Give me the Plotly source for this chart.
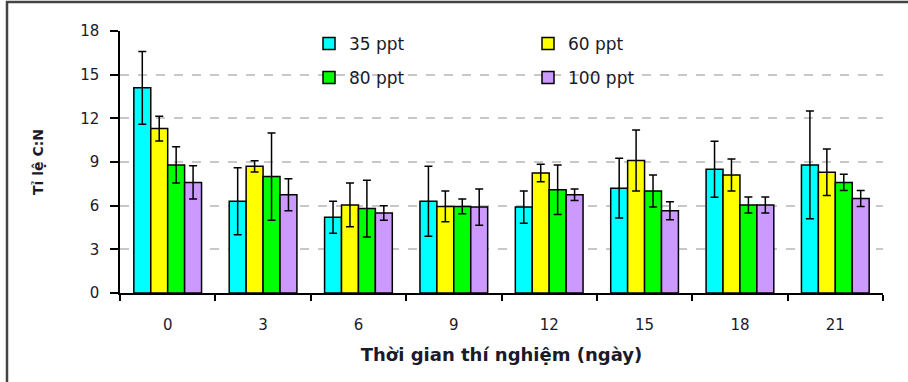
import plotly.graph_objects as go

days = ["0", "3", "6", "9", "12", "15", "18", "21"]
series_names = ["35 ppt", "60 ppt", "80 ppt", "100 ppt"]
colors = ["#00FFFF", "#FFFF00", "#00FF00", "#CC99FF"]

v35 = [14.1, 6.3, 5.2, 6.3, 5.9, 7.2, 8.5, 8.8]
e35 = [2.5, 2.3, 1.1, 2.4, 1.1, 2.05, 1.93, 3.7]
v60 = [11.3, 8.7, 6.05, 5.95, 8.25, 9.1, 8.1, 8.3]
e60 = [0.85, 0.38, 1.5, 1.05, 0.6, 2.1, 1.1, 1.6]
v80 = [8.8, 8.0, 5.8, 5.95, 7.1, 7.0, 6.05, 7.6]
e80 = [1.25, 3.0, 1.95, 0.5, 1.7, 1.1, 0.55, 0.55]
v100 = [7.6, 6.75, 5.5, 5.9, 6.75, 5.65, 6.05, 6.5]
e100 = [1.15, 1.1, 0.5, 1.25, 0.4, 0.62, 0.55, 0.55]

values = [v35, v60, v80, v100]
errors = [e35, e60, e80, e100]
legend_ids = ["legend", "legend", "legend2", "legend2"]

fig = go.Figure()
for name, col, v, e, lg in zip(series_names, colors, values, errors, legend_ids):
    fig.add_trace(go.Bar(
        x=days, y=v, name=name, legend=lg,
        marker=dict(color=col, line=dict(color="black", width=1.5)),
        error_y=dict(type="data", array=e, visible=True, color="black",
                     thickness=1.5, width=4),
    ))

W, H = 908, 382
ml, mr, mt, mb = 120, 25, 31, 89
pw, ph = W - ml - mr, H - mt - mb

def px_x(p):
    return (p - ml) / pw

def px_y(p):
    return (H - mb - p) / ph

font = "DejaVu Sans, Verdana, sans-serif"
txt = "#1a1a2a"
fig.update_layout(
    width=W, height=H,
    margin=dict(l=ml, r=mr, t=mt, b=mb, pad=0),
    paper_bgcolor="white", plot_bgcolor="white",
    barmode="group", bargap=0.29, bargroupgap=0,
    font=dict(family=font, size=15, color=txt),
    showlegend=True,
    legend=dict(orientation="h", x=px_x(309), y=px_y(26), xanchor="left", yanchor="top",
                entrywidth=174, entrywidthmode="pixels", font=dict(size=17),
                bgcolor="rgba(0,0,0,0)", itemwidth=30, tracegroupgap=0),
    legend2=dict(orientation="h", x=px_x(309), y=px_y(60), xanchor="left", yanchor="top",
                 entrywidth=174, entrywidthmode="pixels", font=dict(size=17),
                 bgcolor="rgba(0,0,0,0)", itemwidth=30, tracegroupgap=0),
    xaxis=dict(
        type="category", showline=True, linecolor="black", linewidth=1.5,
        ticks="outside", tickson="boundaries", ticklen=6, tickwidth=1.5, tickcolor="black",
        showgrid=False, zeroline=False,
        tickfont=dict(size=15), ticklabelstandoff=17,
        title=dict(text="<b>Thời gian thí nghiệm (ngày)</b>", font=dict(size=18), standoff=16),
    ),
    yaxis=dict(
        range=[0, 18], tickvals=[0, 3, 6, 9, 12, 15, 18],
        showline=True, linecolor="black", linewidth=1.5,
        ticks="outside", ticklen=8, tickwidth=1.5, tickcolor="black",
        showgrid=True, gridcolor="#c8c8c8", griddash="dash", gridwidth=1.5,
        zeroline=False, tickfont=dict(size=15), ticklabelstandoff=8,
        title=dict(text="<b>Tỉ lệ C:N</b>", font=dict(size=14), standoff=33),
    ),
    shapes=[dict(type="rect", xref="paper", yref="paper",
                 x0=px_x(7), x1=px_x(920), y0=px_y(390), y1=px_y(2),
                 line=dict(color="#444444", width=2.5), fillcolor="rgba(0,0,0,0)",
                 layer="below")],
)

fig.write_html("out.html")
